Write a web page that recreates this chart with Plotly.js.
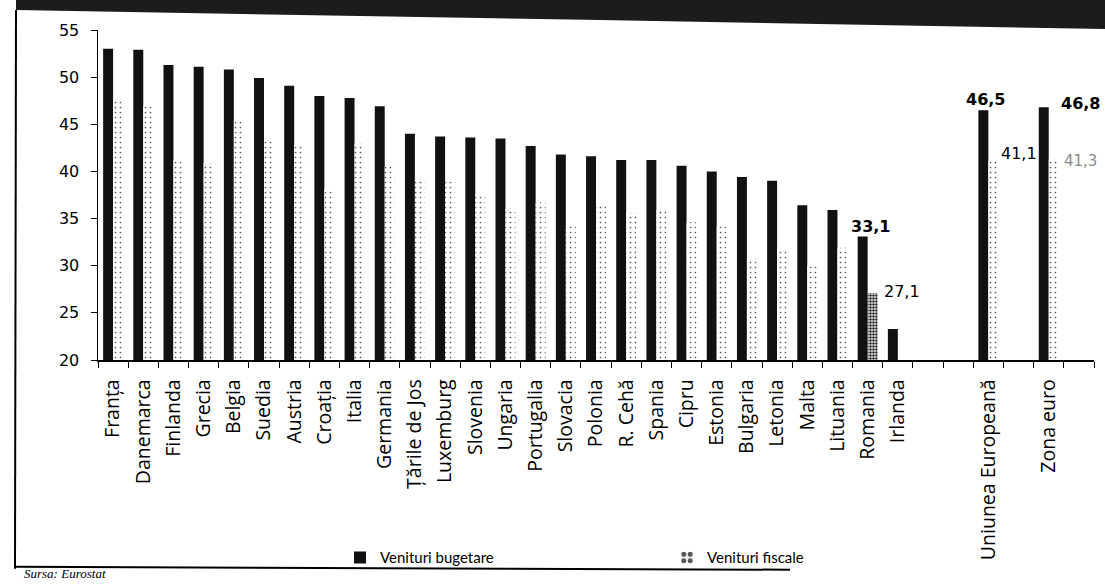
<!DOCTYPE html>
<html>
<head>
<meta charset="utf-8">
<script src="https://cdn.plot.ly/plotly-3.0.1.min.js"></script>
<style>html,body{margin:0;padding:0;background:#fff;}#chart{width:1105px;height:586px;}</style>
</head>
<body>
<div id="chart"></div>
<script>
// Categories
const countries = ['Franța','Danemarca','Finlanda','Grecia','Belgia','Suedia','Austria','Croația','Italia','Germania',
  'Țările de Jos','Luxemburg','Slovenia','Ungaria','Portugalia','Slovacia','Polonia','R. Cehă','Spania','Cipru',
  'Estonia','Bulgaria','Letonia','Malta','Lituania','Romania','Irlanda'];
const aggregates = ['Uniunea Europeană','Zona euro'];
const spacers = [' ', '  ', '   ', '    '];

// Series values (% of GDP)
const venituriBugetare = [53.0,52.9,51.3,51.1,50.8,49.9,49.1,48.0,47.8,46.9,
  44.0,43.7,43.6,43.5,42.7,41.8,41.6,41.2,41.2,40.6,
  40.0,39.4,39.0,36.4,35.9,33.1,23.3];
const venituriBugetareAgg = [46.5, 46.8];
const venituriFiscale = [47.7,47.0,41.2,40.9,45.4,43.5,42.8,38.1,43.0,40.5,
  39.3,39.0,37.6,36.1,36.7,34.2,36.4,35.6,35.9,34.6,
  34.2,30.8,31.8,30.0,31.9,27.1,null];
const venituriFiscaleAgg = [41.1, 41.3];

const seriesNames = ['Venituri bugetare','Venituri fiscale'];
const yTicks = [20,25,30,35,40,45,50,55];

const xCats = countries.concat(aggregates);
const yBug = venituriBugetare.concat(venituriBugetareAgg);
const yFis = venituriFiscale.concat(venituriFiscaleAgg);
const categoryOrder = countries.concat([spacers[0], spacers[1], aggregates[0], spacers[2], aggregates[1], spacers[3]]);

const isRo = xCats.map(c => c === 'Romania');
const fisFg = isRo.map(r => r ? '#2a2a2a' : '#555555');
const fisSolid = isRo.map(r => r ? 0.6 : 0.09);
const fisSize = isRo.map(r => r ? 3 : 5);

const traces = [
  {type:'bar', name:seriesNames[0], x:xCats, y:yBug,
   marker:{color:'#111111', line:{width:0}}, hoverinfo:'x+y'},
  {type:'bar', name:seriesNames[1], x:xCats, y:yFis,
   marker:{color:'#ffffff', line:{width:0},
     pattern:{shape:'.', fgcolor:fisFg, bgcolor:'#ffffff', size:fisSize, solidity:fisSolid}},
   hoverinfo:'x+y'}
];

// pixel -> paper helpers for decorations (plot area 98..1094 x, 30..362 y)
const PL=98, PR=1094, PT=30, PB=362;
const px = v => (v-PL)/(PR-PL);
const py = v => (PB-v)/(PB-PT);

const numFont = {family:'DejaVu Sans, Verdana, sans-serif', size:16, color:'#000'};
const boldFont = {family:'DejaVu Sans, Verdana, sans-serif', size:16, color:'#000', weight:'bold'};
const iRo = countries.indexOf('Romania');

const annotations = [
  {x:'Romania', y:yBug[iRo], text:'<b>33,1</b>', showarrow:false, xshift:3, yshift:10, yanchor:'middle', font:boldFont},
  {x:'Romania', y:yFis[iRo], text:'27,1', showarrow:false, xshift:34, yshift:2, yanchor:'middle', font:numFont},
  {x:aggregates[0], y:venituriBugetareAgg[0], text:'<b>46,5</b>', showarrow:false, xshift:-3, yshift:11, yanchor:'middle', font:boldFont},
  {x:aggregates[0], y:venituriFiscaleAgg[0], text:'41,1', showarrow:false, xshift:31, yshift:8, yanchor:'middle', font:numFont},
  {x:aggregates[1], y:venituriBugetareAgg[1], text:'<b>46,8</b>', showarrow:false, xshift:32, yshift:4, yanchor:'middle', font:boldFont},
  {x:aggregates[1], y:venituriFiscaleAgg[1], text:'41,3', showarrow:false, xshift:32, yshift:-2, yanchor:'middle', font:{family:numFont.family, size:15, color:'#8a8a8a'}},
  {xref:'paper', yref:'paper', x:px(22), y:py(586), xanchor:'left', yanchor:'bottom', showarrow:false,
   text:'<i>Sursa: Eurostat</i>', font:{family:'Liberation Serif, serif', size:13, color:'#000'}}
];

const shapes = [
  // dark header band (scan)
  {type:'path', xref:'paper', yref:'paper', layer:'above',
   path:`M ${px(16)} ${py(-2)} L ${px(1107)} ${py(-2)} L ${px(1107)} ${py(29)} L ${px(600)} ${py(20)} L ${px(16)} ${py(10)} Z`,
   fillcolor:'#1c1c1c', line:{width:0}},
  // left frame line
  {type:'line', xref:'paper', yref:'paper', x0:px(16), x1:px(15), y0:py(10), y1:py(572), line:{color:'#000', width:2}},
  // bottom frame line
  {type:'line', xref:'paper', yref:'paper', x0:px(15), x1:px(790), y0:py(570), y1:py(573), line:{color:'#000', width:2}}
];

const layout = {
  width:1105, height:586,
  margin:{l:PL, r:1105-PR, t:PT, b:586-PB, pad:0},
  paper_bgcolor:'#ffffff', plot_bgcolor:'#ffffff',
  barmode:'group', bargap:0.34, bargroupgap:0,
  showlegend:true,
  legend:{orientation:'h', x:px(340), xanchor:'left', y:py(561), yanchor:'middle',
    entrywidth:282, entrywidthmode:'pixels', itemwidth:30,
    font:{family:'Lato, Open Sans, sans-serif', size:15, color:'#000'}, bgcolor:'rgba(0,0,0,0)'},
  xaxis:{type:'category', categoryorder:'array', categoryarray:categoryOrder,
    range:[-0.5, categoryOrder.length-0.5], showline:true, linecolor:'#000', linewidth:1.5,
    ticks:'outside', tickson:'boundaries', ticklen:6, tickcolor:'#000', tickwidth:1,
    tickangle:-90, tickfont:{family:'Open Sans, sans-serif', size:19.5, color:'#000'}, ticklabelstandoff:10,
    showgrid:false, zeroline:false, fixedrange:true},
  yaxis:{range:[20,55], tickvals:yTicks, ticktext:yTicks.map(String), showline:true, linecolor:'#000', linewidth:1.5,
    ticks:'outside', ticklen:6, tickcolor:'#000', tickwidth:1,
    tickfont:{family:'DejaVu Sans, Verdana, sans-serif', size:16, color:'#000'}, ticklabelstandoff:8,
    showgrid:false, zeroline:false, fixedrange:true},
  annotations:annotations,
  shapes:shapes
};

Plotly.newPlot('chart', traces, layout, {displayModeBar:false, staticPlot:true});
</script>
</body>
</html>
